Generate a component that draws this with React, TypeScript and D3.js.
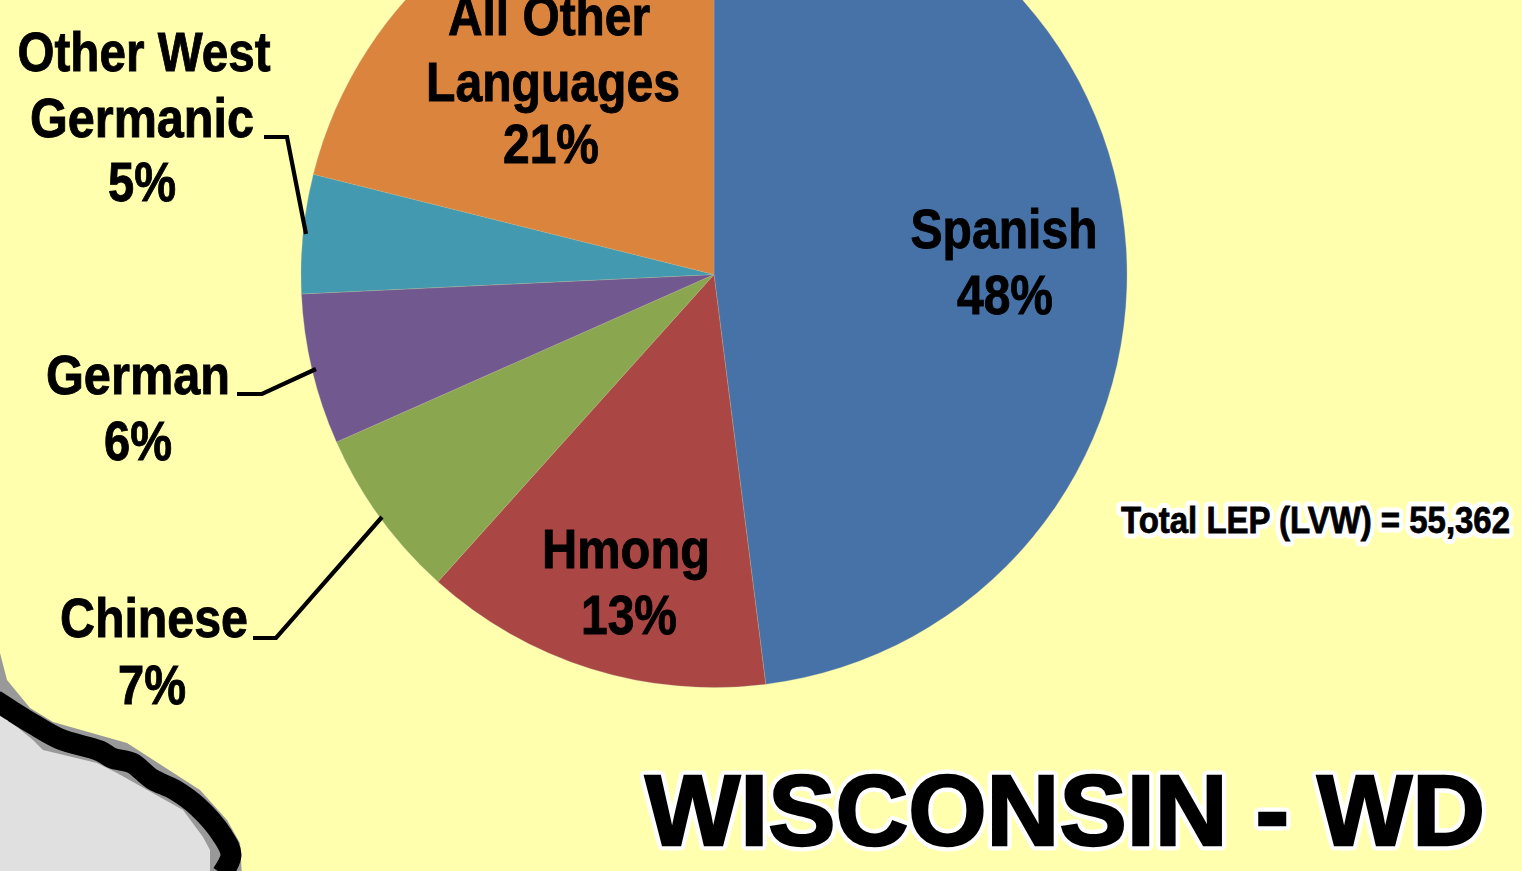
import React from "react";
import * as d3 from "d3";

// Slice shares, clockwise from 12 o'clock
const categories = ["Spanish", "Hmong", "Chinese", "German", "Other West Germanic", "All Other Languages"];
const drawnShares = [48.0, 13.65, 6.7, 5.9, 4.65, 21.1];
const printedPercents = ["48%", "13%", "7%", "6%", "5%", "21%"];
const sliceColors = ["#4672A8", "#AA4644", "#8AA64E", "#71598F", "#4299B0", "#DB843E"];

const totalLabel = "Total LEP (LVW) = 55,362";
const titleLabel = "WISCONSIN - WD";

const W = 1522, H = 871;
const cx = 714, cy = 274.5, radius = 413;
const FONT = "'Liberation Sans', Arial, sans-serif";

// label layout: [text, centre x, baseline y, width]
const labelLayout: [string, number, number, number][] = [
  ["Spanish", 1004, 248, 187],
  [printedPercents[0], 1005, 314, 96],
  ["Hmong", 626, 568, 168],
  [printedPercents[1], 629, 634, 96],
  ["Chinese", 154, 637, 188],
  [printedPercents[2], 152, 704, 68],
  ["German", 138, 394, 184],
  [printedPercents[3], 138, 460, 68],
  ["Other West", 144, 71, 253],
  ["Germanic", 142, 137, 224],
  [printedPercents[4], 142, 201, 68],
  ["All Other", 549, 35, 202],
  ["Languages", 553, 101, 254],
  [printedPercents[5], 551, 163, 96],
];

const leaderLines: [number, number][][] = [
  [[264, 137], [287, 137], [306, 234]],
  [[237, 394], [262, 394], [316, 369]],
  [[253, 638], [276, 638], [382, 517]],
];

// state border trace, lower-left corner
const borderUpper: [number, number][] = [[-5, 640], [0, 653], [7, 680], [30, 708], [53, 722], [127, 743], [200, 790], [227, 820], [240, 843], [242, 876]];
const borderLower: [number, number][] = [[210, 876], [210, 850], [203, 837], [183, 810], [117, 773], [97, 763], [43, 750], [33, 740], [0, 713], [-5, 710]];
const borderCentre: [number, number][] = [[-5, 700], [12, 711], [33, 724], [60, 739], [100, 751], [112, 758], [132, 763], [152, 779], [175, 790], [198, 807], [222, 835], [231, 855], [222, 874]];

export default function App() {
  const pie = d3.pie<number>().sort(null).value((d) => d);
  const arc = d3.arc<d3.PieArcDatum<number>>().innerRadius(0).outerRadius(radius);
  const arcs = pie(drawnShares);
  const line = d3.line();
  const smooth = d3.line().curve(d3.curveCatmullRom.alpha(0.5));
  const landPts = [...borderCentre, [222, 880], [-5, 880]] as [number, number][];
  const band = [...borderUpper, ...borderLower] as [number, number][];

  return (
    <svg width={W} height={H} viewBox={`0 0 ${W} ${H}`}
      style={{ position: "absolute", left: 0, top: 0, display: "block", background: "#FFFFAE" }}>
      <path d={line(landPts) + "Z"} fill="#E0E0E0" />
      <path d={line(band) + "Z"} fill="#999999" />
      <path d={smooth(borderCentre) ?? ""} fill="none" stroke="#000" strokeWidth={21} strokeLinejoin="round" />

      <g transform={`translate(${cx},${cy})`}>
        {arcs.map((a, i) => (
          <path key={categories[i]} d={arc(a) ?? ""} fill={sliceColors[i]} stroke="#B9B9A0" strokeOpacity={0.5} strokeWidth={0.6} />
        ))}
      </g>

      {leaderLines.map((pts, i) => (
        <path key={i} d={line(pts) ?? ""} fill="none" stroke="#000" strokeWidth={4.2} strokeLinejoin="miter" />
      ))}

      {labelLayout.map(([t, x, y, w]) => (
        <text key={t + y} x={x - w / 2} y={y} textLength={w} lengthAdjust="spacingAndGlyphs"
          fontFamily={FONT} fontWeight="700" fontSize={56} fill="#000" stroke="#000" strokeWidth={0.9}>{t}</text>
      ))}

      <text x={1121} y={533} textLength={389} lengthAdjust="spacingAndGlyphs" fontFamily={FONT} fontWeight="700" fontSize={37}
        fill="#000" stroke="#fff" strokeWidth={11} strokeLinejoin="round">{totalLabel}</text>
      <text x={1121} y={533} textLength={389} lengthAdjust="spacingAndGlyphs" fontFamily={FONT} fontWeight="700" fontSize={37}
        fill="#000" stroke="#000" strokeWidth={0.8}>{totalLabel}</text>
      <text x={645} y={845} textLength={840} lengthAdjust="spacingAndGlyphs" fontFamily={FONT} fontWeight="700" fontSize={100}
        fill="#000" stroke="#fff" strokeWidth={11} strokeLinejoin="round">{titleLabel}</text>
      <text x={645} y={845} textLength={840} lengthAdjust="spacingAndGlyphs" fontFamily={FONT} fontWeight="700" fontSize={100}
        fill="#000" stroke="#000" strokeWidth={2.4}>{titleLabel}</text>
    </svg>
  );
}
